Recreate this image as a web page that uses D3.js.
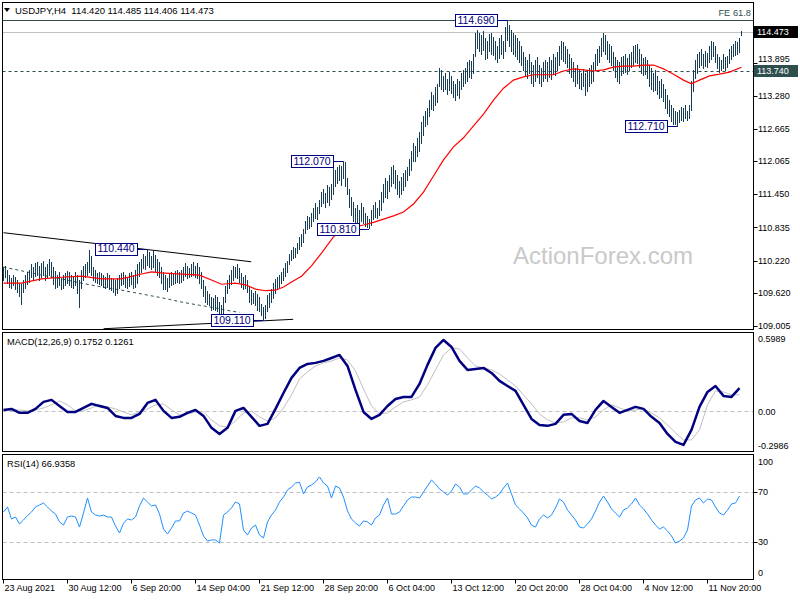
<!DOCTYPE html>
<html><head><meta charset="utf-8">
<script src="https://cdn.jsdelivr.net/npm/d3@7"></script>
<style>
body{margin:0;background:#fff}
svg{display:block}
text{font-family:"Liberation Sans",Arial,sans-serif}
</style>
</head><body>
<svg id="c" width="800" height="600"></svg>
<script>
// ---------- DATA ----------
const symbolTitle = "USDJPY,H4";
const lastOHLC = [114.420, 114.485, 114.406, 114.473];
const barHigh = [
110.10,110.12,110.05,109.95,109.90,109.95,109.92,109.85,109.80,109.78,109.85,
109.95,110.00,110.05,110.15,110.10,110.18,110.20,110.12,110.18,110.22,110.10,
110.15,110.25,110.20,110.10,110.02,109.95,110.00,109.90,109.95,
109.98,110.02,110.00,109.95,109.92,110.00,109.95,109.85,110.05,110.12,
110.15,110.20,110.42,110.30,110.10,110.05,109.98,110.00,
109.98,109.95,109.92,109.98,109.95,109.90,109.88,109.85,109.90,109.95,
109.98,110.00,109.95,109.92,109.98,110.00,109.95,110.05,110.15,110.20,
110.25,110.35,110.30,110.44,110.38,110.30,110.40,110.32,110.25,110.20,
110.10,110.00,109.95,109.90,109.98,110.00,109.98,110.02,110.05,110.00,
110.05,110.10,110.18,110.12,110.08,110.15,110.20,110.12,110.18,110.10,
110.00,109.85,109.75,109.65,109.60,109.55,109.52,109.58,109.55,109.45,109.40,109.55,109.75,109.85,
109.95,110.05,110.12,110.10,110.15,110.08,109.98,109.92,109.95,109.85,109.75,109.68,109.62,
109.65,109.60,109.55,109.42,109.35,109.40,109.58,109.62,109.70,109.80,109.88,
109.92,109.95,110.00,110.08,110.18,110.22,110.35,110.42,110.48,110.45,110.55,110.65,110.72,110.80,
110.95,111.05,111.02,111.10,111.20,111.28,111.22,111.35,111.50,111.55,111.48,111.62,111.58,111.65,111.95,
111.90,111.95,112.00,111.98,112.07,112.05,111.75,111.55,111.40,111.30,111.20,111.25,111.15,111.28,111.22,111.10,111.05,111.00,
111.15,111.25,111.30,111.20,111.35,111.50,111.65,111.75,111.70,111.80,111.95,112.00,111.90,111.80,111.70,111.78,111.85,
111.90,111.95,112.10,112.25,112.40,112.35,112.50,112.60,112.80,112.90,113.00,113.05,113.20,113.35,113.30,113.45,113.50,
113.80,113.75,113.65,113.70,113.60,113.72,113.65,113.55,113.50,113.60,113.55,113.70,113.75,113.80,113.90,113.95,113.92,114.05,
114.45,114.50,114.45,114.40,114.48,114.35,114.30,114.42,114.45,114.38,114.30,114.20,114.35,114.40,114.30,114.55,114.69,
114.60,114.50,114.45,114.40,114.35,114.30,114.20,114.10,114.00,113.95,114.05,113.90,113.85,113.95,114.00,113.85,113.80,113.90,
113.95,113.90,114.00,113.95,114.05,114.00,114.10,114.20,114.30,114.28,114.20,114.15,114.05,113.98,113.90,113.80,113.85,113.75,113.70,113.78,
113.70,113.75,113.80,113.85,113.90,114.05,114.15,114.20,114.35,114.45,114.40,114.30,114.25,114.20,114.10,114.00,113.95,113.90,114.00,114.02,
114.05,113.98,114.05,114.10,114.20,114.22,114.25,114.15,114.05,113.98,114.00,113.95,113.85,113.80,113.70,113.75,113.65,113.55,113.60,113.50,
113.40,113.30,113.20,113.10,113.05,113.00,112.98,113.02,113.08,113.05,113.10,113.00,113.10,113.55,113.75,
113.95,114.05,114.10,114.15,114.05,114.12,114.08,114.20,114.30,114.28,114.20,114.05,114.00,113.95,114.05,114.00,114.02,114.15,114.20,114.25,114.30,114.28,114.35,114.485
];
const barLow = [
109.85,109.90,109.80,109.72,109.70,109.75,109.68,109.62,109.55,109.40,109.62,
109.70,109.78,109.82,109.90,109.85,109.92,109.95,109.85,109.90,109.95,109.85,
109.88,109.95,109.90,109.78,109.70,109.72,109.75,109.68,109.70,
109.75,109.80,109.75,109.72,109.70,109.75,109.60,109.35,109.70,109.85,
109.90,109.95,110.00,109.95,109.85,109.82,109.80,109.78,
109.75,109.72,109.70,109.72,109.68,109.66,109.62,109.58,109.60,109.70,
109.75,109.78,109.72,109.70,109.74,109.78,109.70,109.72,109.80,109.92,
110.00,110.08,110.05,110.12,110.10,110.05,110.10,110.02,109.95,109.90,
109.80,109.68,109.68,109.65,109.72,109.75,109.78,109.80,109.82,109.80,
109.82,109.85,109.92,109.88,109.90,109.92,109.95,109.90,109.88,109.80,
109.70,109.55,109.45,109.40,109.38,109.30,109.32,109.30,109.28,109.22,109.15,109.20,109.45,109.60,
109.70,109.78,109.85,109.90,109.88,109.82,109.72,109.68,109.70,109.62,109.45,109.40,109.42,
109.38,109.30,109.28,109.20,109.11,109.15,109.28,109.35,109.45,109.52,109.60,
109.68,109.72,109.80,109.85,109.92,110.00,110.15,110.22,110.25,110.28,110.35,110.42,110.48,110.55,
110.72,110.80,110.82,110.85,110.95,111.00,110.98,111.10,111.22,111.28,111.20,111.30,111.25,111.35,111.45,
111.60,111.65,111.70,111.62,111.75,111.60,111.45,111.20,111.05,110.95,110.90,110.92,110.88,110.95,110.90,110.85,110.83,110.81,
110.88,110.98,111.02,111.00,111.05,111.15,111.30,111.40,111.38,111.50,111.60,111.65,111.55,111.45,111.40,111.45,111.52,
111.60,111.70,111.80,111.90,112.05,112.05,112.15,112.25,112.40,112.55,112.70,112.75,112.90,113.02,113.00,113.10,113.15,
113.45,113.40,113.35,113.40,113.30,113.38,113.32,113.25,113.20,113.28,113.22,113.40,113.45,113.50,113.55,113.62,113.60,113.70,
114.00,114.15,114.10,114.05,114.12,113.95,113.98,114.10,114.05,114.02,113.95,113.90,113.98,114.05,113.98,114.10,114.30,
114.20,114.10,114.05,114.00,113.95,113.90,113.85,113.75,113.65,113.60,113.70,113.50,113.45,113.55,113.62,113.50,113.45,113.55,
113.60,113.55,113.62,113.58,113.68,113.65,113.75,113.85,113.95,113.92,113.88,113.80,113.70,113.62,113.55,113.45,113.50,113.42,113.40,113.45,
113.28,113.35,113.45,113.50,113.55,113.75,113.85,113.90,114.00,114.10,114.05,113.95,113.90,113.85,113.75,113.62,113.55,113.50,113.65,113.70,
113.72,113.68,113.75,113.80,113.85,113.90,113.88,113.80,113.70,113.65,113.68,113.60,113.45,113.40,113.35,113.38,113.30,113.22,113.25,113.18,
113.05,112.95,112.90,112.80,112.75,112.74,112.71,112.78,112.82,112.80,112.85,112.82,112.85,113.00,113.35,
113.60,113.70,113.80,113.85,113.78,113.82,113.80,113.90,113.95,114.00,113.90,113.78,113.72,113.75,113.78,113.74,113.80,113.88,113.95,114.00,114.02,114.05,114.08,114.406
];
// red moving average (bar index, price)
const maIdx = [0,9,19,29,39,49,59,69,74,79,89,98,104,109,116,121,126,131,136,140,144,149,154,159,165,170,175,180,185,190,195,200,205,210,215,220,225,230,235,240,245,250,255,260,265,270,275,280,285,290,295,300,305,310,315,320,325,330,335,340,344,348,353,358,363,369];
const maVal = [109.80,109.80,109.88,109.91,109.93,109.88,109.88,109.97,110.01,109.99,109.97,109.95,109.86,109.78,109.80,109.77,109.69,109.66,109.67,109.73,109.82,109.93,110.12,110.36,110.66,110.79,110.84,110.88,110.93,110.99,111.05,111.12,111.27,111.49,111.79,112.09,112.33,112.50,112.72,112.94,113.20,113.42,113.57,113.63,113.67,113.67,113.67,113.74,113.78,113.76,113.74,113.76,113.81,113.83,113.83,113.85,113.85,113.78,113.68,113.57,113.50,113.57,113.65,113.68,113.72,113.81];
// dashed channel curve
const chanIdx = [0,9,19,29,39,49,59,69,79,89,98,106,114,118];
const chanVal = [110.10,110.03,109.95,109.88,109.80,109.73,109.67,109.60,109.53,109.45,109.39,109.34,109.28,109.26];
// trend lines
const trendUpIdx = [0, 123.85], trendUpVal = [110.737, 110.198];
const trendLoIdx = [50, 144.85], trendLoVal = [108.954, 109.129];
// annotated swing points
const annIdx = [72, 130, 170, 183, 252, 337];
const annVal = [110.44, 109.11, 112.07, 110.81, 114.69, 112.71];
const levelFE = 114.69, levelFELabel = "FE 61.8";
const levelSupport = 113.74;
const priceTicks = [109.005,109.620,110.220,110.835,111.450,112.065,112.665,113.280,113.895];
// MACD (every 4 bars)
const macdVal = [
0.011,0.019,-0.011,-0.011,0.019,0.072,0.087,0.041,-0.004,-0.004,
0.026,0.057,0.041,0.026,-0.034,-0.049,-0.049,-0.019,0.064,0.087,
0.004,-0.049,-0.041,-0.011,0.011,-0.034,-0.124,-0.170,-0.124,0.004,
0.026,-0.041,-0.109,-0.094,0.019,0.139,0.253,0.328,0.358,0.366,
0.381,0.403,0.426,0.343,0.162,-0.004,-0.057,-0.026,0.041,0.094,
0.109,0.109,0.207,0.351,0.479,0.539,0.486,0.381,0.313,0.320,
0.328,0.290,0.230,0.192,0.155,0.049,-0.057,-0.102,-0.109,-0.094,
-0.026,-0.019,-0.072,-0.087,0.011,0.079,0.034,-0.011,0.011,0.034,
0.019,-0.041,-0.087,-0.170,-0.230,-0.253,-0.139,0.034,0.147,0.192,
0.117,0.109,0.175];
const signalVal = [
0.011,0.011,0.011,0.004,0.011,0.026,0.049,0.079,0.049,0.004,
0.004,0.026,0.049,0.034,0.019,-0.004,-0.026,-0.004,0.019,0.049,
0.057,0.011,-0.026,-0.019,-0.004,-0.004,-0.064,-0.109,-0.117,-0.072,
-0.011,0.004,-0.041,-0.072,-0.049,0.026,0.124,0.245,0.298,0.343,
0.366,0.381,0.403,0.388,0.305,0.170,0.041,-0.019,-0.011,0.034,
0.072,0.087,0.109,0.200,0.313,0.426,0.479,0.471,0.403,0.343,
0.328,0.313,0.283,0.237,0.192,0.124,0.057,-0.019,-0.064,-0.087,
-0.079,-0.049,-0.049,-0.064,-0.041,0.011,0.049,0.026,0.004,0.011,
0.019,-0.011,-0.049,-0.102,-0.162,-0.215,-0.215,-0.139,0.049,0.155,
0.147,0.124,0.126];
const macdTitle = "MACD(12,26,9) 0.1752 0.1261";
const macdTicks = [0.5989, 0, -0.2986];
const macdTickLabels = ["0.5989", "0.00", "-0.2986"];
// RSI (every 2 bars)
const rsiVal = [
54.0,58.1,48.4,50.0,44.4,47.6,51.2,54.0,58.1,59.7,
61.3,58.1,54.8,52.4,46.0,43.5,50.0,50.8,50.0,41.9,
53.2,65.3,54.0,51.6,50.8,51.6,50.0,50.0,42.7,37.1,
45.0,48.4,47.6,50.0,58.9,65.3,62.1,58.9,59.7,52.4,
40.3,36.3,41.1,46.8,46.8,53.2,54.8,53.2,51.6,43.5,
34.7,30.6,31.5,31.5,29.0,51.6,54.0,57.3,62.1,60.5,
39.5,35.5,41.1,43.5,35.5,33.1,46.0,51.6,55.6,62.1,
66.1,71.8,74.2,77.4,78.0,68.6,74.2,75.8,78.2,82.3,
77.4,75.0,65.3,75.0,73.4,66.1,54.8,48.4,45.2,42.7,
46.8,46.0,43.5,49.2,51.6,59.7,65.3,52.4,52.4,54.0,
58.9,63.7,66.1,66.1,65.3,70.2,75.0,79.8,76.6,72.6,
70.2,67.7,71.0,76.6,74.2,68.6,68.6,71.8,75.0,73.4,
70.2,67.7,64.5,66.1,68.6,73.4,77.4,68.6,59.7,56.5,
53.2,49.2,43.5,41.9,48.4,51.6,49.2,51.6,57.3,64.5,
62.1,55.6,51.6,47.6,41.9,41.1,44.4,48.4,54.8,62.1,
66.9,62.1,56.5,53.2,50.0,55.6,57.3,60.5,65.3,59.7,
56.5,52.4,47.6,43.5,40.3,41.9,38.7,34.7,29.0,30.6,
33.1,39.5,58.9,63.7,65.3,61.3,64.5,63.7,58.1,53.2,
51.6,55.6,60.5,61.3,66.9];
const rsiTitle = "RSI(14) 66.9358";
const rsiTicks = [100, 70, 30, 0];
const rsiLevels = [70, 30];
const timeIdx = [0,32,64,96,128,160,192,224,256,288,320,352];
const timeLabels = ["23 Aug 2021","30 Aug 12:00","6 Sep 20:00","14 Sep 04:00","21 Sep 12:00","28 Sep 20:00","6 Oct 04:00","13 Oct 12:00","20 Oct 20:00","28 Oct 04:00","4 Nov 12:00","11 Nov 20:00"];
const watermark = "ActionForex.com";

// ---------- LAYOUT ----------
const svg = d3.select("#c");
const L = 2.5, R = 753.5;
const main = {top: 2.5, bottom: 329.5};
const mac = {top: 332.5, bottom: 451.5};
const rsi = {top: 454.5, bottom: 579.5};
const barColor = "#163d53";
const fs = 9;

const x = d3.scaleLinear().domain([0, 375]).range([3.5, 753.5]);
const yP = d3.scaleLinear().domain([109.005, 114.473]).range([326, 31.5]);
const yM = d3.scaleLinear().domain([-0.2986, 0.5989]).range([451, 332]);
const yR = d3.scaleLinear().domain([0, 100]).range([579, 455]);

svg.append("rect").attr("width", 800).attr("height", 600).attr("fill", "#fff");

const defs = svg.append("defs");
[["cm", main], ["cd", mac], ["cr", rsi]].forEach(([id, p]) => {
  defs.append("clipPath").attr("id", id).append("rect")
    .attr("x", L + 0.5).attr("y", p.top + 0.5).attr("width", R - L - 1).attr("height", p.bottom - p.top - 1);
});

// watermark
svg.append("text").attr("x", 513).attr("y", 264).attr("font-size", 24)
  .attr("fill", "#c9c9c9").text(watermark);

// ---------- MAIN PANEL ----------
const gm = svg.append("g").attr("clip-path", "url(#cm)");
gm.append("line").attr("x1", L).attr("x2", R).attr("y1", Math.round(yP(levelFE)) + 0.5).attr("y2", Math.round(yP(levelFE)) + 0.5)
  .attr("stroke", "#2f4f4f").attr("stroke-width", 1);
gm.append("line").attr("x1", L).attr("x2", R).attr("y1", Math.round(yP(lastOHLC[3])) + 0.5).attr("y2", Math.round(yP(lastOHLC[3])) + 0.5)
  .attr("stroke", "#c0c0c0").attr("stroke-width", 1);
gm.append("line").attr("x1", L).attr("x2", R).attr("y1", Math.round(yP(levelSupport)) + 0.5).attr("y2", Math.round(yP(levelSupport)) + 0.5)
  .attr("stroke", "#2f4f4f").attr("stroke-width", 1).attr("stroke-dasharray", "3,3");

const tl = d3.line().x(d => x(d[0])).y(d => yP(d[1]));
gm.append("path").attr("d", tl(trendUpIdx.map((v, i) => [v, trendUpVal[i]]))).attr("stroke", "#000").attr("fill", "none");
gm.append("path").attr("d", tl(trendLoIdx.map((v, i) => [v, trendLoVal[i]]))).attr("stroke", "#000").attr("fill", "none");
gm.append("path").attr("d", tl(chanIdx.map((v, i) => [v, chanVal[i]])))
  .attr("stroke", "#2f4f4f").attr("fill", "none").attr("stroke-dasharray", "3,3");

gm.append("g").selectAll("line").data(barHigh).join("line")
  .attr("x1", (d, i) => x(i)).attr("x2", (d, i) => x(i))
  .attr("y1", d => yP(d)).attr("y2", (d, i) => yP(barLow[i]) + 0.5)
  .attr("stroke", barColor).attr("stroke-width", 1).attr("shape-rendering", "crispEdges");

gm.append("path").attr("d", tl(maIdx.map((v, i) => [v, maVal[i]])))
  .attr("stroke", "#ff0000").attr("fill", "none").attr("stroke-width", 1.2);

annIdx.forEach((bi, k) => {
  const v = annVal[k];
  const bx = x(bi) - 0.5, by = yP(v);
  const w = 42, h = 12;
  gm.append("line").attr("x1", bx - 10).attr("x2", bx).attr("y1", Math.round(by) + 0.5).attr("y2", Math.round(by) + 0.5)
    .attr("stroke", "#000080");
  gm.append("rect").attr("x", Math.round(bx - 10 - w) + 0.5).attr("y", Math.round(by - h / 2) + 0.5)
    .attr("width", w).attr("height", h).attr("fill", "#fff").attr("stroke", "#000080");
  gm.append("text").attr("x", bx - 10 - w / 2).attr("y", by).attr("dy", "0.36em")
    .attr("text-anchor", "middle").attr("font-size", 10.5).attr("fill", "#000080").text(v.toFixed(3));
});

svg.append("path").attr("d", "M4,8 L10,8 L7,12 Z").attr("fill", "#000");
svg.append("text").attr("x", 15).attr("y", 13.5).attr("font-size", 9.5).attr("fill", "#000")
  .style("white-space", "pre")
  .text(symbolTitle + "  " + lastOHLC.map(d => d.toFixed(3)).join(" "));
svg.append("text").attr("x", 751).attr("y", 16).attr("text-anchor", "end").attr("font-size", 9.3)
  .attr("fill", "#2f4f4f").text(levelFELabel);

// ---------- MACD ----------
const gd = svg.append("g").attr("clip-path", "url(#cd)");
gd.append("line").attr("x1", L).attr("x2", R).attr("y1", Math.round(yM(0)) + 0.5).attr("y2", Math.round(yM(0)) + 0.5)
  .attr("stroke", "#c0c0c0").attr("stroke-dasharray", "4,3");
const lm = d3.line().x((d, k) => x(4 * k)).y(d => yM(d));
gd.append("path").attr("d", lm(signalVal)).attr("stroke", "#c0c0c0").attr("fill", "none").attr("stroke-width", 1);
gd.append("path").attr("d", lm(macdVal)).attr("stroke", "#000080").attr("fill", "none").attr("stroke-width", 2.5)
  .attr("stroke-linejoin", "round");
svg.append("text").attr("x", 7).attr("y", 344.5).attr("font-size", 9.3).attr("fill", "#000").text(macdTitle);

// ---------- RSI ----------
const gr = svg.append("g").attr("clip-path", "url(#cr)");
rsiLevels.forEach(v => {
  gr.append("line").attr("x1", L).attr("x2", R).attr("y1", Math.round(yR(v)) + 0.5).attr("y2", Math.round(yR(v)) + 0.5)
    .attr("stroke", "#c0c0c0").attr("stroke-dasharray", "4,3");
});
const lr = d3.line().x((d, k) => x(2 * k)).y(d => yR(d));
gr.append("path").attr("d", lr(rsiVal)).attr("stroke", "#1e90ff").attr("fill", "none").attr("stroke-width", 1);
svg.append("text").attr("x", 7).attr("y", 467).attr("font-size", 9.3).attr("fill", "#000").text(rsiTitle);

// ---------- FRAMES ----------
[main, mac, rsi].forEach(p => {
  svg.append("rect").attr("x", L).attr("y", p.top).attr("width", R - L).attr("height", p.bottom - p.top)
    .attr("fill", "none").attr("stroke", "#000").attr("stroke-width", 1);
});

// ---------- RIGHT AXES ----------
function rightLabel(y, txt, ly) {
  svg.append("line").attr("x1", R).attr("x2", R + 4).attr("y1", Math.round(y) + 0.5).attr("y2", Math.round(y) + 0.5).attr("stroke", "#000");
  svg.append("text").attr("x", 758).attr("y", ly).attr("dy", "0.35em").attr("font-size", fs).attr("fill", "#000").text(txt);
}
const supportY = yP(levelSupport);
priceTicks.forEach(v => {
  const y = yP(v);
  // keep label clear of the support price box
  const ly = (y < supportY && supportY - y < 12) ? supportY - 12 : y;
  rightLabel(y, v.toFixed(3), ly);
});
function priceBox(v, fill) {
  const y = yP(v);
  svg.append("rect").attr("x", 754).attr("y", Math.round(y) - 6).attr("width", 44).attr("height", 12).attr("fill", fill);
  svg.append("text").attr("x", 757).attr("y", y).attr("dy", "0.35em").attr("font-size", fs).attr("fill", "#fff").text(v.toFixed(3));
}
priceBox(levelSupport, "#2f4f4f");
priceBox(lastOHLC[3], "#000");

macdTicks.forEach((v, i) => {
  const y = Math.max(mac.top + 6, Math.min(mac.bottom - 6, yM(v)));
  svg.append("text").attr("x", 758).attr("y", y).attr("dy", "0.35em").attr("font-size", fs).attr("fill", "#000").text(macdTickLabels[i]);
});
rsiTicks.forEach(v => {
  const y = Math.max(rsi.top + 7, Math.min(rsi.bottom - 7, yR(v)));
  if (v === 70 || v === 30) svg.append("line").attr("x1", R).attr("x2", R + 4).attr("y1", Math.round(yR(v)) + 0.5).attr("y2", Math.round(yR(v)) + 0.5).attr("stroke", "#000");
  svg.append("text").attr("x", 758).attr("y", y).attr("dy", "0.35em").attr("font-size", fs).attr("fill", "#000").text(v);
});

// ---------- TIME AXIS ----------
timeIdx.forEach((bi, k) => {
  const tx = Math.round(x(bi) - 0.5) + 0.5;
  svg.append("line").attr("x1", tx).attr("x2", tx).attr("y1", rsi.bottom).attr("y2", rsi.bottom + 4).attr("stroke", "#000");
  svg.append("text").attr("x", tx + 1).attr("y", 591).attr("font-size", fs).attr("fill", "#000").text(timeLabels[k]);
});
</script>
</body></html>
